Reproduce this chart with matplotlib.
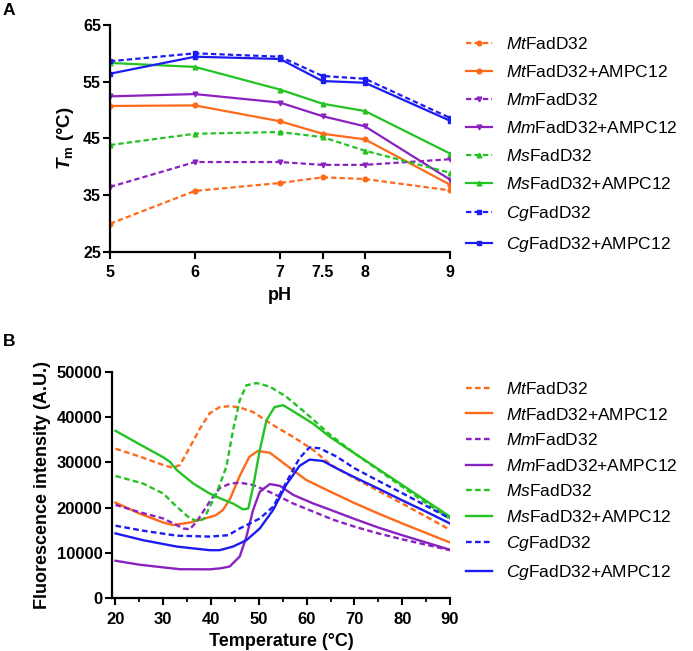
import matplotlib
matplotlib.use("Agg")
import matplotlib.pyplot as plt
from matplotlib.ticker import MultipleLocator

plt.rcParams['font.family'] = ['Liberation Sans', 'DejaVu Sans']
plt.rcParams['mathtext.fontset'] = 'custom'
plt.rcParams['mathtext.rm'] = 'Liberation Sans'
plt.rcParams['mathtext.it'] = 'Liberation Sans:italic'
plt.rcParams['mathtext.bf'] = 'Liberation Sans:bold'
plt.rcParams['mathtext.bfit'] = 'Liberation Sans:italic:bold'

# ---------------- Data: panel A (Tm vs pH) ----------------
ph = [5, 6, 7, 7.5, 8, 9]
tm_mt = [29.9, 35.7, 37.1, 38.1, 37.8, 35.8]
tm_mt_ampc = [50.7, 50.8, 48.0, 45.8, 44.8, 36.8]
tm_mm = [36.4, 40.8, 40.8, 40.3, 40.3, 41.3]
tm_mm_ampc = [52.4, 52.8, 51.3, 48.9, 47.1, 37.7]
tm_ms = [43.8, 45.8, 46.1, 45.2, 42.8, 38.9]
tm_ms_ampc = [58.3, 57.6, 53.6, 51.1, 49.8, 42.3]
tm_cg = [58.6, 60.0, 59.4, 56.0, 55.5, 48.6]
tm_cg_ampc = [56.4, 59.4, 59.0, 55.1, 54.8, 48.1]

# ---------------- Data: panel B (melting curves) ----------------
t_mt = [20, 25, 30, 32, 33.5, 35.6, 37.7, 39.7, 41.8, 44, 46, 48.8, 53, 57.2, 61.4, 65, 70, 75, 80, 85, 90]
f_mt = [33000, 31300, 29400, 28800, 29400, 33400, 37500, 40800, 42200, 42400, 42100, 41100, 38200, 35600, 32700, 29500, 26500, 23700, 20900, 18000, 15100]

t_mt_ampc = [20, 25, 30, 32, 35.6, 39.7, 41, 42.5, 44, 46, 48, 49.8, 52.3, 55.7, 59.9, 65, 70, 75, 80, 85, 90]
f_mt_ampc = [21100, 18700, 16700, 16150, 16700, 17900, 18300, 19500, 22000, 27000, 31200, 32500, 32100, 29400, 26100, 23500, 21000, 18700, 16500, 14400, 12300]

t_mm = [20, 25, 30, 34.2, 35.5, 37, 39.7, 41.8, 44, 46, 48.8, 53, 57.2, 61.4, 65.6, 70, 75, 80, 85, 90]
f_mm = [20600, 19000, 17600, 15400, 15200, 16900, 21300, 24300, 25300, 25500, 25000, 23100, 20900, 19100, 17300, 15800, 14300, 13000, 11800, 10600]

t_mm_ampc = [20, 25, 30, 33.5, 39.7, 42, 43.9, 46, 47.4, 48.8, 50.2, 52.3, 54.4, 57.2, 61.4, 65, 70, 75, 80, 85, 90]
f_mm_ampc = [8270, 7400, 6800, 6400, 6370, 6600, 7000, 9200, 13600, 19500, 23500, 25200, 24800, 22800, 20900, 19500, 17500, 15600, 13900, 12300, 10700]

t_ms = [20, 25.8, 30, 32.8, 35.6, 37.3, 38.5, 41.1, 43.2, 44.6, 46, 47.4, 49.5, 52.3, 55.7, 59.9, 65, 70, 75, 80, 85, 90]
f_ms = [27000, 25300, 23100, 20200, 17600, 17000, 17500, 23100, 29000, 37100, 43700, 47000, 47500, 46700, 44500, 40800, 36000, 32000, 28300, 24600, 21000, 17500]

t_ms_ampc = [20, 25, 30, 31.4, 32.8, 36.3, 39.7, 42, 44.6, 46.7, 47.8, 48.8, 50.2, 51.6, 53.3, 55.1, 57.9, 61.4, 65, 70, 75, 80, 85, 90]
f_ms_ampc = [36950, 34000, 31100, 30100, 28300, 25300, 23100, 22000, 20900, 19600, 19800, 24600, 32700, 39300, 42200, 42600, 40800, 38500, 35500, 32000, 28500, 25000, 21500, 18000]

t_cg = [20, 25.8, 32.8, 39.7, 43.6, 46, 50.2, 53, 55.7, 58.5, 60.6, 62.7, 66.2, 70, 75, 80, 85, 90]
f_cg = [16000, 14900, 13800, 13600, 13900, 15400, 17600, 20200, 25500, 30900, 33300, 33100, 31300, 28700, 25900, 23200, 20400, 17600]

t_cg_ampc = [20, 25.8, 32.8, 39.7, 41.8, 44.6, 47.4, 50.2, 53, 55.7, 58.5, 60.6, 63.4, 66.2, 70, 75, 80, 85, 90]
f_cg_ampc = [14300, 12800, 11400, 10600, 10600, 11400, 12800, 15400, 19500, 25000, 29200, 30600, 30300, 28700, 26700, 24200, 21600, 19100, 16500]

names = ['Mt', 'Mt', 'Mm', 'Mm', 'Ms', 'Ms', 'Cg', 'Cg']
suffixes = ['FadD32', 'FadD32+AMPC12'] * 4

ORANGE = '#FF6A1A'
PURPLE = '#8A22C0'
GREEN = '#22C322'
BLUE = '#1C1CF2'
colors = [ORANGE, ORANGE, PURPLE, PURPLE, GREEN, GREEN, BLUE, BLUE]
markers = ['o', 'o', 'v', 'v', '^', '^', 's', 's']
dashed = [True, False] * 4

labels = [r'$\mathit{%s}$%s' % (n, s) for n, s in zip(names, suffixes)]

tm_series = [tm_mt, tm_mt_ampc, tm_mm, tm_mm_ampc, tm_ms, tm_ms_ampc, tm_cg, tm_cg_ampc]
curves = [(t_mt, f_mt), (t_mt_ampc, f_mt_ampc), (t_mm, f_mm), (t_mm_ampc, f_mm_ampc),
          (t_ms, f_ms), (t_ms_ampc, f_ms_ampc), (t_cg, f_cg), (t_cg_ampc, f_cg_ampc)]

W, H = 693, 651
fig = plt.figure(figsize=(W / 100, H / 100), dpi=100)


def style_axes(ax, tick_fs):
    for s in ['top', 'right']:
        ax.spines[s].set_visible(False)
    for s in ['left', 'bottom']:
        ax.spines[s].set_linewidth(1.6)
    ax.tick_params(which='major', direction='out', length=5, width=1.5, labelsize=tick_fs)
    ax.tick_params(which='minor', direction='out', length=3, width=1.3)
    for lab in ax.get_xticklabels() + ax.get_yticklabels():
        lab.set_fontweight('bold')


# ---------------- Panel A ----------------
axA = fig.add_axes([110 / W, 1 - 251.5 / H, 340 / W, 226.5 / H])
for ys, c, m, d, lab in zip(tm_series, colors, markers, dashed, labels):
    axA.plot(ph, ys, color=c, lw=1.6, marker=m, ms=3.4, mec=c, mfc=c,
             linestyle=(0, (2.4, 1.4)) if d else '-', label=lab)
axA.set_xlim(5, 9)
axA.set_ylim(25, 65)
axA.set_xticks(ph)
axA.set_xticklabels(['5', '6', '7', '7.5', '8', '9'])
axA.set_yticks([25, 35, 45, 55, 65])
style_axes(axA, 11.5)
axA.tick_params(axis='x', pad=5)
axA.tick_params(axis='y', pad=1.5)
axA.set_xlabel('pH', fontsize=13, fontweight='bold', labelpad=5)
axA.set_ylabel(r'$\mathbfit{T}_{\mathbf{m}}$ (°C)', fontsize=13.5, fontweight='bold', labelpad=5)

hA, lA = axA.get_legend_handles_labels()
fig.legend(hA, lA, loc='upper left', bbox_to_anchor=(466 / W, 1 - 36 / H),
           frameon=False, fontsize=12.5, handlelength=1.5, handletextpad=0.8,
           labelspacing=0.69, borderaxespad=0, borderpad=0)

# ---------------- Panel B ----------------
axB = fig.add_axes([112 / W, 1 - 598.2 / H, 338 / W, 226.5 / H])
for (ts, fs), c, d, lab in zip(curves, colors, dashed, labels):
    axB.plot(ts, fs, color=c, lw=1.7, linestyle=(0, (2.4, 1.4)) if d else '-', label=lab)
axB.set_xlim(19.27, 90)
axB.set_ylim(0, 50000)
axB.set_xticks([20, 30, 40, 50, 60, 70, 80, 90])
axB.xaxis.set_minor_locator(MultipleLocator(5))
axB.set_yticks([0, 10000, 20000, 30000, 40000, 50000])
style_axes(axB, 12)
axB.tick_params(axis='x', pad=5)
axB.tick_params(axis='y', pad=2)
axB.set_xlabel('Temperature (°C)', fontsize=13, fontweight='bold', labelpad=4)
axB.set_ylabel('Fluorescence intensity (A.U.)', fontsize=13, fontweight='bold', labelpad=4)

hB, lB = axB.get_legend_handles_labels()
fig.legend(hB, lB, loc='upper left', bbox_to_anchor=(466 / W, 1 - 381 / H),
           frameon=False, fontsize=12.5, handlelength=1.5, handletextpad=0.8,
           labelspacing=0.55, borderaxespad=0, borderpad=0)

fig.text(3 / W, 1 - 3 / H, 'A', fontsize=12.5, fontweight='bold', va='top', ha='left')
fig.text(3 / W, 1 - 334 / H, 'B', fontsize=12.5, fontweight='bold', va='top', ha='left')

fig.savefig('out.png', dpi=100)
